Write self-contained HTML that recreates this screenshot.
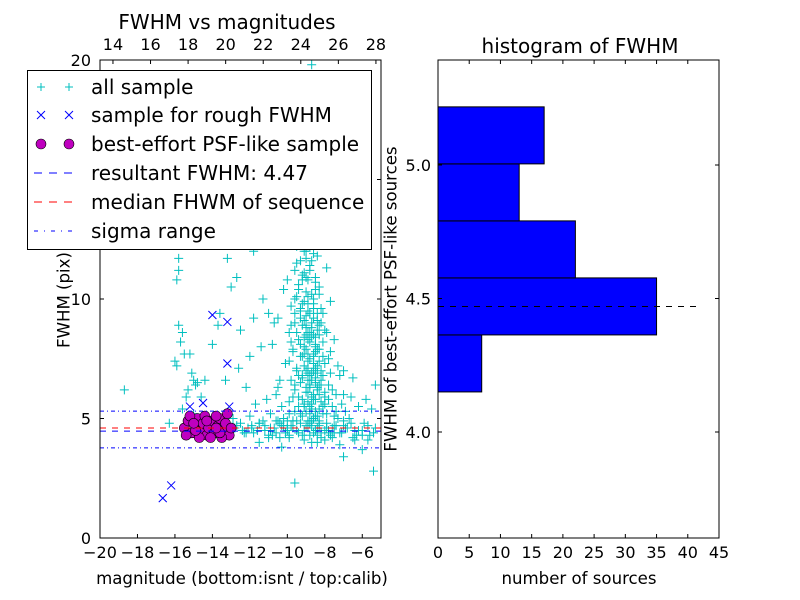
<!DOCTYPE html>
<html><head><meta charset="utf-8"><style>
body{margin:0;background:#fff}
svg{display:block;font-family:"DejaVu Sans","Liberation Sans",sans-serif}
</style></head><body>
<svg id="chart" width="800" height="600" viewBox="0 0 800 600"></svg>
<script>
// ---- data ----
const allX=[-8.7,-9.3,-8.9,-9.1,-8.6,-9.4,-8.8,-9.0,-8.5,-9.6,-9.2,-8.7,-9.0,-9.3,-8.4,-8.9,-9.5,-9.1,-8.6,-9.0,-9.3,-8.8,-7.9,-9.6,-9.2,-8.5,-8.9,-9.4,-8.3,-10.2,-9.0,-8.7,-9.5,-9.1,-8.6,-9.8,-8.2,-9.3,-8.8,-9.0,-10.5,-8.4,-9.6,-9.2,-8.7,-8.0,-9.9,-9.0,-8.5,-9.4,-8.8,-10.8,-9.1,-8.3,-9.7,-8.6,-9.3,-7.8,-8.9,-10.1,-8.4,-9.5,-9.0,-8.7,-8.1,-9.2,-10.4,-8.5,-9.6,-8.8,-7.6,-9.0,-8.3,-9.4,-8.6,-9.9,-8.0,-9.1,-8.7,-7.4,-9.3,-8.5,-10.2,-8.9,
-12.8,-12.5,-12.2,-11.9,-11.6,-11.3,-11.0,-10.7,-10.4,-10.1,-9.8,-9.5,-9.2,-8.9,-8.6,-8.3,-8.0,-7.7,-7.4,-7.1,-6.8,-6.5,-6.2,-5.9,-5.6,-5.3,-12.0,-10.9,-9.6,-7.9,-6.7,-7.2,-8.4,-9.1,-6.0,-5.4,-9.6,-7.0,-10.3,-11.5,
-15.8,-15.8,-15.9,-15.8,-15.6,-15.7,-15.5,-16.0,-15.9,-15.2,-15.1,-15.0,-14.9,-15.3,-15.4,-15.6,-15.0,-16.3,-18.7,-14.6,-14.8,-14.4,
-13.3,-12.6,-12.0,-11.4,-12.5,-11.8,-11.0,-10.7,-13.0,-12.7,-11.3,-10.0,-13.6,-14.0,-13.7,-12.2,-11.1,-10.5,-11.7,-13.2,-11.8,-10.5,-7.2,-6.6,-6.2,-5.8,-5.3,-5.5,-7.0,-6.9,-7.5,-7.3,-6.5,-7.7,
-8.8,-8.4,-8.6,-8.2,-8.9,-8.4,-8.7,-8.1,-8.8,-8.3,-9.0,-8.5,-8.2,-8.6,-9.2,-8.9,-8.3,-8.0,-9.4,-8.7,-8.4,-9.7,-7.9,-7.6,-7.3,-7.8,-8.1,-9.1,-9.3,-8.6,-9.0,-8.8,-9.2,-8.9,-9.1,
-10.9,-10.2,-9.9,-10.6,-11.9,-12.3,-11.5,-10.8,-10.0,-9.7,-8.2,-7.5,-7.0,-6.4,-6.0,-5.7,-12.9,-11.2,-10.4,-7.8,
-9.2,-8.9,-8.6,-9.0,-8.7,-9.3,-8.5,-8.8,-9.1,-8.4,-8.7,-9.0,-8.6,-8.9,-8.3,-9.2,-8.8,-8.5,-9.4,-8.9,-9.1,-8.7,-9.3,-8.8,-9.0,-8.6,-9.2,-8.9,-8.5,-9.6,-8.2,-9.5,-8.1,-9.7,-8.0,-9.5,-8.2,-9.6,-8.0,-9.4,-8.1,-9.5,-7.9,-8.6,-9.1,-8.4,-8.9,-9.2,-8.5,-8.8,-9.3,-8.4,-8.7,-9.0,-8.6,-8.3,-9.1,-8.8,-8.2,-7.8,-7.5,-7.2,-6.9,-6.6,-6.3,-6.0,-5.7,-5.4,-9.4,-9.7,-10.0,-10.3,-10.6,-10.9,-11.2,-11.5,-11.8,-12.1,-12.4,-12.7,-9.9,-10.5,-11.0,-7.6,-7.0,-6.4,-8.0,-8.7,-9.3,-8.9,-8.5,-8.2,-8.9,-8.3,-8.6,-8.3,-9.0,-8.6,-8.3,-8.9,-8.5,-9.2,-8.8,-9.0,-8.6,-9.4,-8.8,-8.7,-9.0,-8.8,-8.4,-9.5,-8.3,-9.6,-8.1,-9.8,-7.9,-9.8,-7.7,-9.9,-7.7,-9.8,-7.8,-9.7,-7.6,-9.9,-7.5,-10.0,-7.4,-7.1,-7.0,-10.3,-10.6,-8.7,-8.9,-8.5,-8.9,-8.6,-8.9,-8.5,-8.8,-8.5,-8.8,-8.4,-8.7,-8.4,-9.0,-9.1,-9.2,-9.1,-9.3,-8.4];
const allY=[19.8,17.5,16.8,16.2,15.9,15.3,15.0,14.6,14.2,14.0,13.7,13.4,13.1,12.8,12.6,12.4,12.2,12.0,11.9,11.7,11.6,11.4,11.3,11.2,11.0,10.9,10.8,10.6,10.5,10.4,10.3,10.2,10.1,9.9,9.8,9.7,9.6,9.5,9.4,9.3,9.2,9.1,9.0,8.9,8.8,8.7,8.6,8.5,8.4,8.3,8.2,8.1,8.0,7.9,7.8,7.7,7.6,7.5,7.4,7.3,7.2,7.1,7.0,6.9,6.8,6.7,6.6,6.5,6.4,6.3,6.2,6.1,6.0,5.9,5.8,5.7,5.6,5.5,5.4,5.3,5.2,5.1,5.0,4.9,
4.6,4.8,4.4,4.7,4.5,4.9,4.3,4.6,4.8,4.4,4.7,4.5,4.3,4.6,4.4,4.8,4.5,4.3,4.7,4.4,4.6,4.2,4.5,4.8,4.3,4.6,5.1,5.2,5.3,5.2,5.0,3.9,4.0,4.1,3.7,2.8,2.3,3.4,3.8,4.0,
11.7,11.2,10.8,8.9,8.6,8.2,7.7,7.4,7.2,7.7,6.9,6.6,6.4,6.2,5.9,5.4,5.2,4.8,6.2,5.9,6.5,6.6,
6.6,7.1,7.6,8.0,8.7,9.2,9.4,9.0,10.5,10.9,10.0,10.8,9.4,8.1,8.9,6.3,5.8,6.3,5.6,11.7,12.0,12.6,6.8,5.9,5.5,5.8,6.4,5.4,6.0,5.3,8.3,7.2,6.7,9.9,
8.6,7.9,7.3,7.0,6.6,6.2,5.9,5.5,5.2,4.9,8.9,8.0,6.4,5.0,5.8,7.1,8.5,6.1,6.8,4.7,4.3,4.9,4.8,4.6,5.0,5.8,7.6,7.7,9.2,10.0,10.9,12.2,13.3,14.8,18.4,
4.5,4.7,4.2,4.9,4.6,4.4,4.8,4.3,4.6,4.9,4.2,4.4,4.7,4.5,4.3,4.1,5.0,4.7,4.2,4.4,
9.8,9.5,9.2,8.8,8.4,8.1,7.8,7.5,7.2,6.9,6.6,6.3,6.0,5.7,5.4,5.1,4.8,4.5,10.4,10.1,11.1,11.6,12.5,13.0,13.9,14.4,15.6,17.1,10.7,9.4,9.0,8.6,8.2,7.9,7.3,7.0,6.6,6.2,5.9,5.5,5.2,4.9,4.6,9.6,9.1,8.7,8.3,7.6,7.1,6.8,6.5,6.3,5.6,5.3,5.0,4.7,4.5,4.3,4.4,4.5,4.7,4.4,4.6,4.8,4.3,4.5,4.7,4.4,4.4,4.6,4.5,4.7,4.4,4.6,4.5,4.8,4.4,4.6,4.5,4.7,4.3,4.9,4.2,4.2,4.9,4.1,4.1,4.0,4.8,4.9,5.3,5.7,6.1,6.4,7.0,7.4,7.9,8.5,8.9,9.8,10.4,10.8,11.2,12.0,12.9,13.6,15.4,16.5,17.8,19.1,11.8,11.5,10.2,10.0,9.4,8.9,8.6,8.2,7.8,7.4,6.9,6.6,6.4,5.9,5.5,5.2,5.1,4.9,6.0,5.6,7.0,5.5,6.0,9.0,8.6,8.1,7.7,7.6,6.9,6.7,6.4,5.8,5.5,5.1,4.9,4.6,4.7,5.6,6.8,8.4,9.6,9.4];
const roughX=[-14.0,-13.2,-13.2,-15.2,-14.5,-13.1,-16.2,-16.65];
const roughY=[9.33,9.04,7.3,5.5,5.65,5.5,2.2,1.67];
const bestX=[-15.5,-15.3,-15.1,-14.9,-14.8,-14.6,-14.5,-14.3,-14.2,-14.0,-13.9,-13.7,-13.6,-13.4,-13.3,-13.1,-13.0,-15.4,-14.7,-14.1,-13.5,-15.2,-14.4,-13.8,-13.2,-14.9,-13.6,-14.3,-13.8,-15.0];
const bestY=[4.6,4.9,4.4,4.7,5.0,4.5,4.8,4.3,4.6,4.9,4.4,4.7,5.0,4.5,4.8,4.3,4.6,4.3,4.2,4.2,4.2,5.1,5.1,5.1,5.2,4.5,4.4,4.9,4.6,4.8];
const resultFWHM=4.47, medianFWHM=4.6, sigmaLo=3.77, sigmaHi=5.31;
const histCounts=[7,35,22,13,17];
const histStart=4.15, histWidth=0.2135;
const xTicksL=[-20,-18,-16,-14,-12,-10,-8,-6];
const xTopTicks=[14,16,18,20,22,24,26,28];
const yTicksL=[0,5,10,15,20];
const xTicksR=[0,5,10,15,20,25,30,35,40,45];
const yTicksR=[4.0,4.5,5.0];

// ---- helpers ----
const NS='http://www.w3.org/2000/svg', svg=document.getElementById('chart');
function mk(tag,attrs,parent){const e=document.createElementNS(NS,tag);for(const k in attrs)e.setAttribute(k,attrs[k]);(parent||svg).appendChild(e);return e;}
function txt(s,x,y,size,anchor,parent){const t=mk('text',{x:x,y:y,'font-size':size,'text-anchor':anchor||'middle',fill:'#000'},parent);t.textContent=s;return t;}
const L={x0:100,x1:381,y0:60,y1:538}, R={x0:438,x1:719,y0:60,y1:538};
const lx=v=>L.x0+(v+20)/15*(L.x1-L.x0);
const ly=v=>L.y1-v/20*(L.y1-L.y0);
const tx=v=>L.x0+(v-13.31)/(28.27-13.31)*(L.x1-L.x0);
const rx=v=>R.x0+v/45*(R.x1-R.x0);
const ry=v=>R.y1-(v-3.603)/(5.393-3.603)*(R.y1-R.y0);

const defs=mk('defs',{});
const cp=mk('clipPath',{id:'clipL'},defs);mk('rect',{x:L.x0,y:L.y0,width:L.x1-L.x0,height:L.y1-L.y0},cp);

// ---- left scatter ----
const gL=mk('g',{'clip-path':'url(#clipL)'});


for(let i=0;i<allX.length;i++){const x=lx(allX[i]),y=ly(allY[i]);
 const p=mk('path',{d:`M${x-4.5},${y}H${x+4.5}M${x},${y-4.5}V${y+4.5}`,stroke:'#00bfbf','stroke-width':1},gL);
 
 }
for(let i=0;i<roughX.length;i++){const x=lx(roughX[i]),y=ly(roughY[i]);
 const p=mk('path',{d:`M${x-4},${y-4}L${x+4},${y+4}M${x-4},${y+4}L${x+4},${y-4}`,stroke:'#0000ff','stroke-width':1},gL);
 
 }
for(let i=0;i<bestX.length;i++){
 const c=mk('circle',{cx:lx(bestX[i]),cy:ly(bestY[i]),r:5,fill:'#bf00bf',stroke:'#000','stroke-width':0.6},gL);
 
 }
function hl(v,color,dash,name){const l=mk('line',{x1:L.x0,x2:L.x1,y1:ly(v),y2:ly(v),stroke:color,'stroke-width':1,'stroke-dasharray':dash},gL);
 
 }
hl(resultFWHM,'#0000ff','6,6','resultant-fwhm-line');
hl(medianFWHM,'#ff0000','6,6','median-fwhm-line');
hl(sigmaLo,'#0000ff','4,3,1,3','sigma-low-line');
hl(sigmaHi,'#0000ff','4,3,1,3','sigma-high-line');

const fL=mk('rect',{x:L.x0,y:L.y0,width:L.x1-L.x0,height:L.y1-L.y0,fill:'none',stroke:'#000','stroke-width':1});


xTicksL.forEach(v=>{const x=lx(v);mk('path',{d:`M${x},${L.y1}v-4`,stroke:'#000'});
 const t=txt((v<0?'\u2212':'')+Math.abs(v),x,558,16);
 
 });
xTopTicks.forEach(v=>{const x=tx(v);mk('path',{d:`M${x},${L.y0}v4`,stroke:'#000'});
 const t=txt(String(v),x,50,16);
 
 });
yTicksL.forEach(v=>{const y=ly(v);mk('path',{d:`M${L.x0},${y}h4M${L.x1},${y}h-4`,stroke:'#000'});
 const t=txt(String(v),91,y+6,16,'end');
 
 });
let t=txt('FWHM vs magnitudes',227,29,20);
t=txt('magnitude (bottom:isnt / top:calib)',242,584,16.6);
t=txt('FWHM (pix)',65,300,16.6);t.setAttribute('transform','rotate(-90 65 300)');t.setAttribute('dominant-baseline','middle');


// ---- right histogram ----
const gR=mk('g',{});


histCounts.forEach((c,i)=>{const lo=histStart+i*histWidth,hi=lo+histWidth;
 const b=mk('rect',{x:rx(0),y:ry(hi),width:rx(c)-rx(0),height:ry(lo)-ry(hi),fill:'#0000ff',stroke:'#000','stroke-width':1},gR);
 
 });
const dl=mk('line',{x1:R.x0,x2:rx(41.5),y1:ry(resultFWHM),y2:ry(resultFWHM),stroke:'#000','stroke-dasharray':'6,6'});


const fR=mk('rect',{x:R.x0,y:R.y0,width:R.x1-R.x0,height:R.y1-R.y0,fill:'none',stroke:'#000','stroke-width':1});


xTicksR.forEach(v=>{const x=rx(v);mk('path',{d:`M${x},${R.y1}v-4M${x},${R.y0}v4`,stroke:'#000'});
 const t=txt(String(v),x,558,16);
 
 });
yTicksR.forEach(v=>{const y=ry(v);mk('path',{d:`M${R.x0},${y}h4M${R.x1},${y}h-4`,stroke:'#000'});
 const t=txt(v.toFixed(1),431,y+6,16,'end');
 
 });
t=txt('histogram of FWHM',580,53,20);
t=txt('number of sources',579,584,16.6);
t=txt('FWHM of best-effort PSF-like sources',392,299,16.6);t.setAttribute('transform','rotate(-90 392 299)');t.setAttribute('dominant-baseline','middle');


// ---- legend ----
const lg=mk('g',{});


mk('rect',{x:27.5,y:70.5,width:344,height:179,fill:'#fff',stroke:'#000','stroke-width':1},lg);
const rows=[87,115,144,173,202,231];
const labels=['all sample','sample for rough FWHM','best-effort PSF-like sample','resultant FWHM: 4.47','median FHWM of sequence','sigma range'];
rows.forEach((y,i)=>{
 const e=mk('g',{},lg);
 
 
 [41,69].forEach(x=>{
  if(i===0)mk('path',{d:`M${x-4},${y}H${x+4}M${x},${y-4}V${y+4}`,stroke:'#00bfbf'},e);
  if(i===1)mk('path',{d:`M${x-4},${y-4}L${x+4},${y+4}M${x-4},${y+4}L${x+4},${y-4}`,stroke:'#0000ff'},e);
  if(i===2)mk('circle',{cx:x,cy:y,r:5,fill:'#bf00bf',stroke:'#000','stroke-width':0.6},e);});
 if(i>=3)mk('line',{x1:34,x2:76,y1:y,y2:y,stroke:i===4?'#ff0000':'#0000ff','stroke-dasharray':i===5?'4,6,1,6':'8,7'},e);
 txt(labels[i],91,y+7,20,'start',e);
});
</script>
</body></html>
